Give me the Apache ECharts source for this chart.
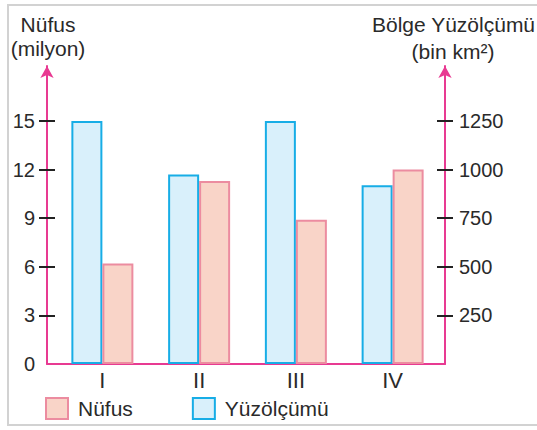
<!DOCTYPE html>
<html>
<head>
<meta charset="utf-8">
<script src="https://cdn.jsdelivr.net/npm/echarts@6/dist/echarts.min.js"></script>
<style>html,body{margin:0;padding:0;background:#fff}#c{width:537px;height:430px}</style>
</head>
<body>
<div id="c"></div>
<script>
const categories = ['I', 'II', 'III', 'IV'];
const nufus = [6.2, 11.3, 8.9, 12];
const yuzolcumu = [1250, 975, 1250, 920];
const leftTicks = [0, 3, 6, 9, 12, 15];
const rightTicks = [250, 500, 750, 1000, 1250];

const PINK = '#e83a92';
const TXT = '#2a2a2a';
const FONT = 'Liberation Sans, Arial, sans-serif';
// axis extends above the top tick (arrow): ratio of full axis height to tick span
const RATIO = 298 / 243;
const LMAX = 15 * RATIO;
const RMAX = 1250 * RATIO;

const chart = echarts.init(document.getElementById('c'), null, {renderer: 'svg'});

const hiddenY = (grid, pos, max) => ({
  type: 'value', gridIndex: grid, position: pos, min: 0, max: max, show: false
});
const tickOnly = (pos, max, ticks, inside) => ({
  type: 'value', gridIndex: 1, position: pos, min: 0, max: max,
  axisLine: {show: false}, axisLabel: {show: false}, splitLine: {show: false},
  axisTick: {show: true, inside: inside, length: 8, customValues: ticks, lineStyle: {color: '#222', width: 2}}
});

chart.setOption({
  animation: false,
  textStyle: {fontFamily: FONT},
  grid: [
    {left: 54, right: 96, top: 66, bottom: 66},
    {left: 47, right: 92, top: 66, bottom: 66}
  ],
  graphic: [
    {type: 'rect', z: -10, shape: {x: 8, y: 5, width: 600, height: 420},
     style: {fill: 'none', stroke: '#d2d2d2', lineWidth: 2}},
    {type: 'text', x: 48, y: 24, style: {text: 'Nüfus', fontSize: 21, fontFamily: FONT, fill: TXT, align: 'center', verticalAlign: 'middle'}},
    {type: 'text', x: 48, y: 48, style: {text: '(milyon)', fontSize: 21, fontFamily: FONT, fill: TXT, align: 'center', verticalAlign: 'middle'}},
    {type: 'text', x: 372, y: 24, style: {text: 'Bölge Yüzölçümü', fontSize: 21, fontFamily: FONT, fill: TXT, align: 'left', verticalAlign: 'middle'}},
    {type: 'text', x: 453, y: 51, style: {text: '(bin km²)', fontSize: 21, fontFamily: FONT, fill: TXT, align: 'center', verticalAlign: 'middle'}}
  ],
  legend: {
    data: ['Nüfus', 'Yüzölçümü'],
    left: 45, top: 397, padding: 0,
    icon: 'rect', itemWidth: 22, itemHeight: 21, itemGap: 59,
    textStyle: {fontSize: 21, color: TXT, fontFamily: FONT, padding: [0, 0, 0, 5]}
  },
  xAxis: [
    {type: 'category', gridIndex: 0, data: categories,
     axisLine: {show: false}, axisTick: {show: false},
     axisLabel: {fontSize: 22, color: TXT, margin: 5}},
    {type: 'value', gridIndex: 1, min: 0, max: 1,
     axisLine: {show: true, lineStyle: {color: PINK, width: 2}},
     axisTick: {show: false}, axisLabel: {show: false}, splitLine: {show: false}}
  ],
  yAxis: [
    hiddenY(0, 'left', LMAX),
    hiddenY(0, 'right', RMAX),
    {type: 'value', gridIndex: 1, position: 'left', min: 0, max: LMAX,
     axisLine: {show: true, symbol: ['none', 'arrow'], symbolSize: [10, 12], lineStyle: {color: PINK, width: 2}},
     axisTick: {show: true, length: 8, customValues: leftTicks.filter(v => v > 0), lineStyle: {color: '#222', width: 2}},
     axisLabel: {customValues: leftTicks, fontSize: 20, color: TXT, margin: 12, formatter: v => String(v)},
     splitLine: {show: false}},
    {type: 'value', gridIndex: 1, position: 'right', min: 0, max: RMAX,
     axisLine: {show: true, symbol: ['none', 'arrow'], symbolSize: [10, 12], lineStyle: {color: PINK, width: 2}},
     axisTick: {show: true, length: 8, customValues: rightTicks, lineStyle: {color: '#222', width: 2}},
     axisLabel: {customValues: rightTicks, fontSize: 20, color: TXT, margin: 14, formatter: v => String(v)},
     splitLine: {show: false}},
    tickOnly('left', LMAX, leftTicks.filter(v => v > 0), true),
    tickOnly('right', RMAX, rightTicks, true)
  ],
  series: [
    {name: 'Yüzölçümü', type: 'bar', xAxisIndex: 0, yAxisIndex: 1, data: yuzolcumu,
     barWidth: 31, barGap: '0%',
     itemStyle: {color: '#d9f0fb', borderColor: '#17ade6', borderWidth: 2}},
    {name: 'Nüfus', type: 'bar', xAxisIndex: 0, yAxisIndex: 0, data: nufus,
     barWidth: 31, barGap: '0%',
     itemStyle: {color: '#f9d4c8', borderColor: '#ec8ca0', borderWidth: 2}}
  ]
});
</script>
</body>
</html>
